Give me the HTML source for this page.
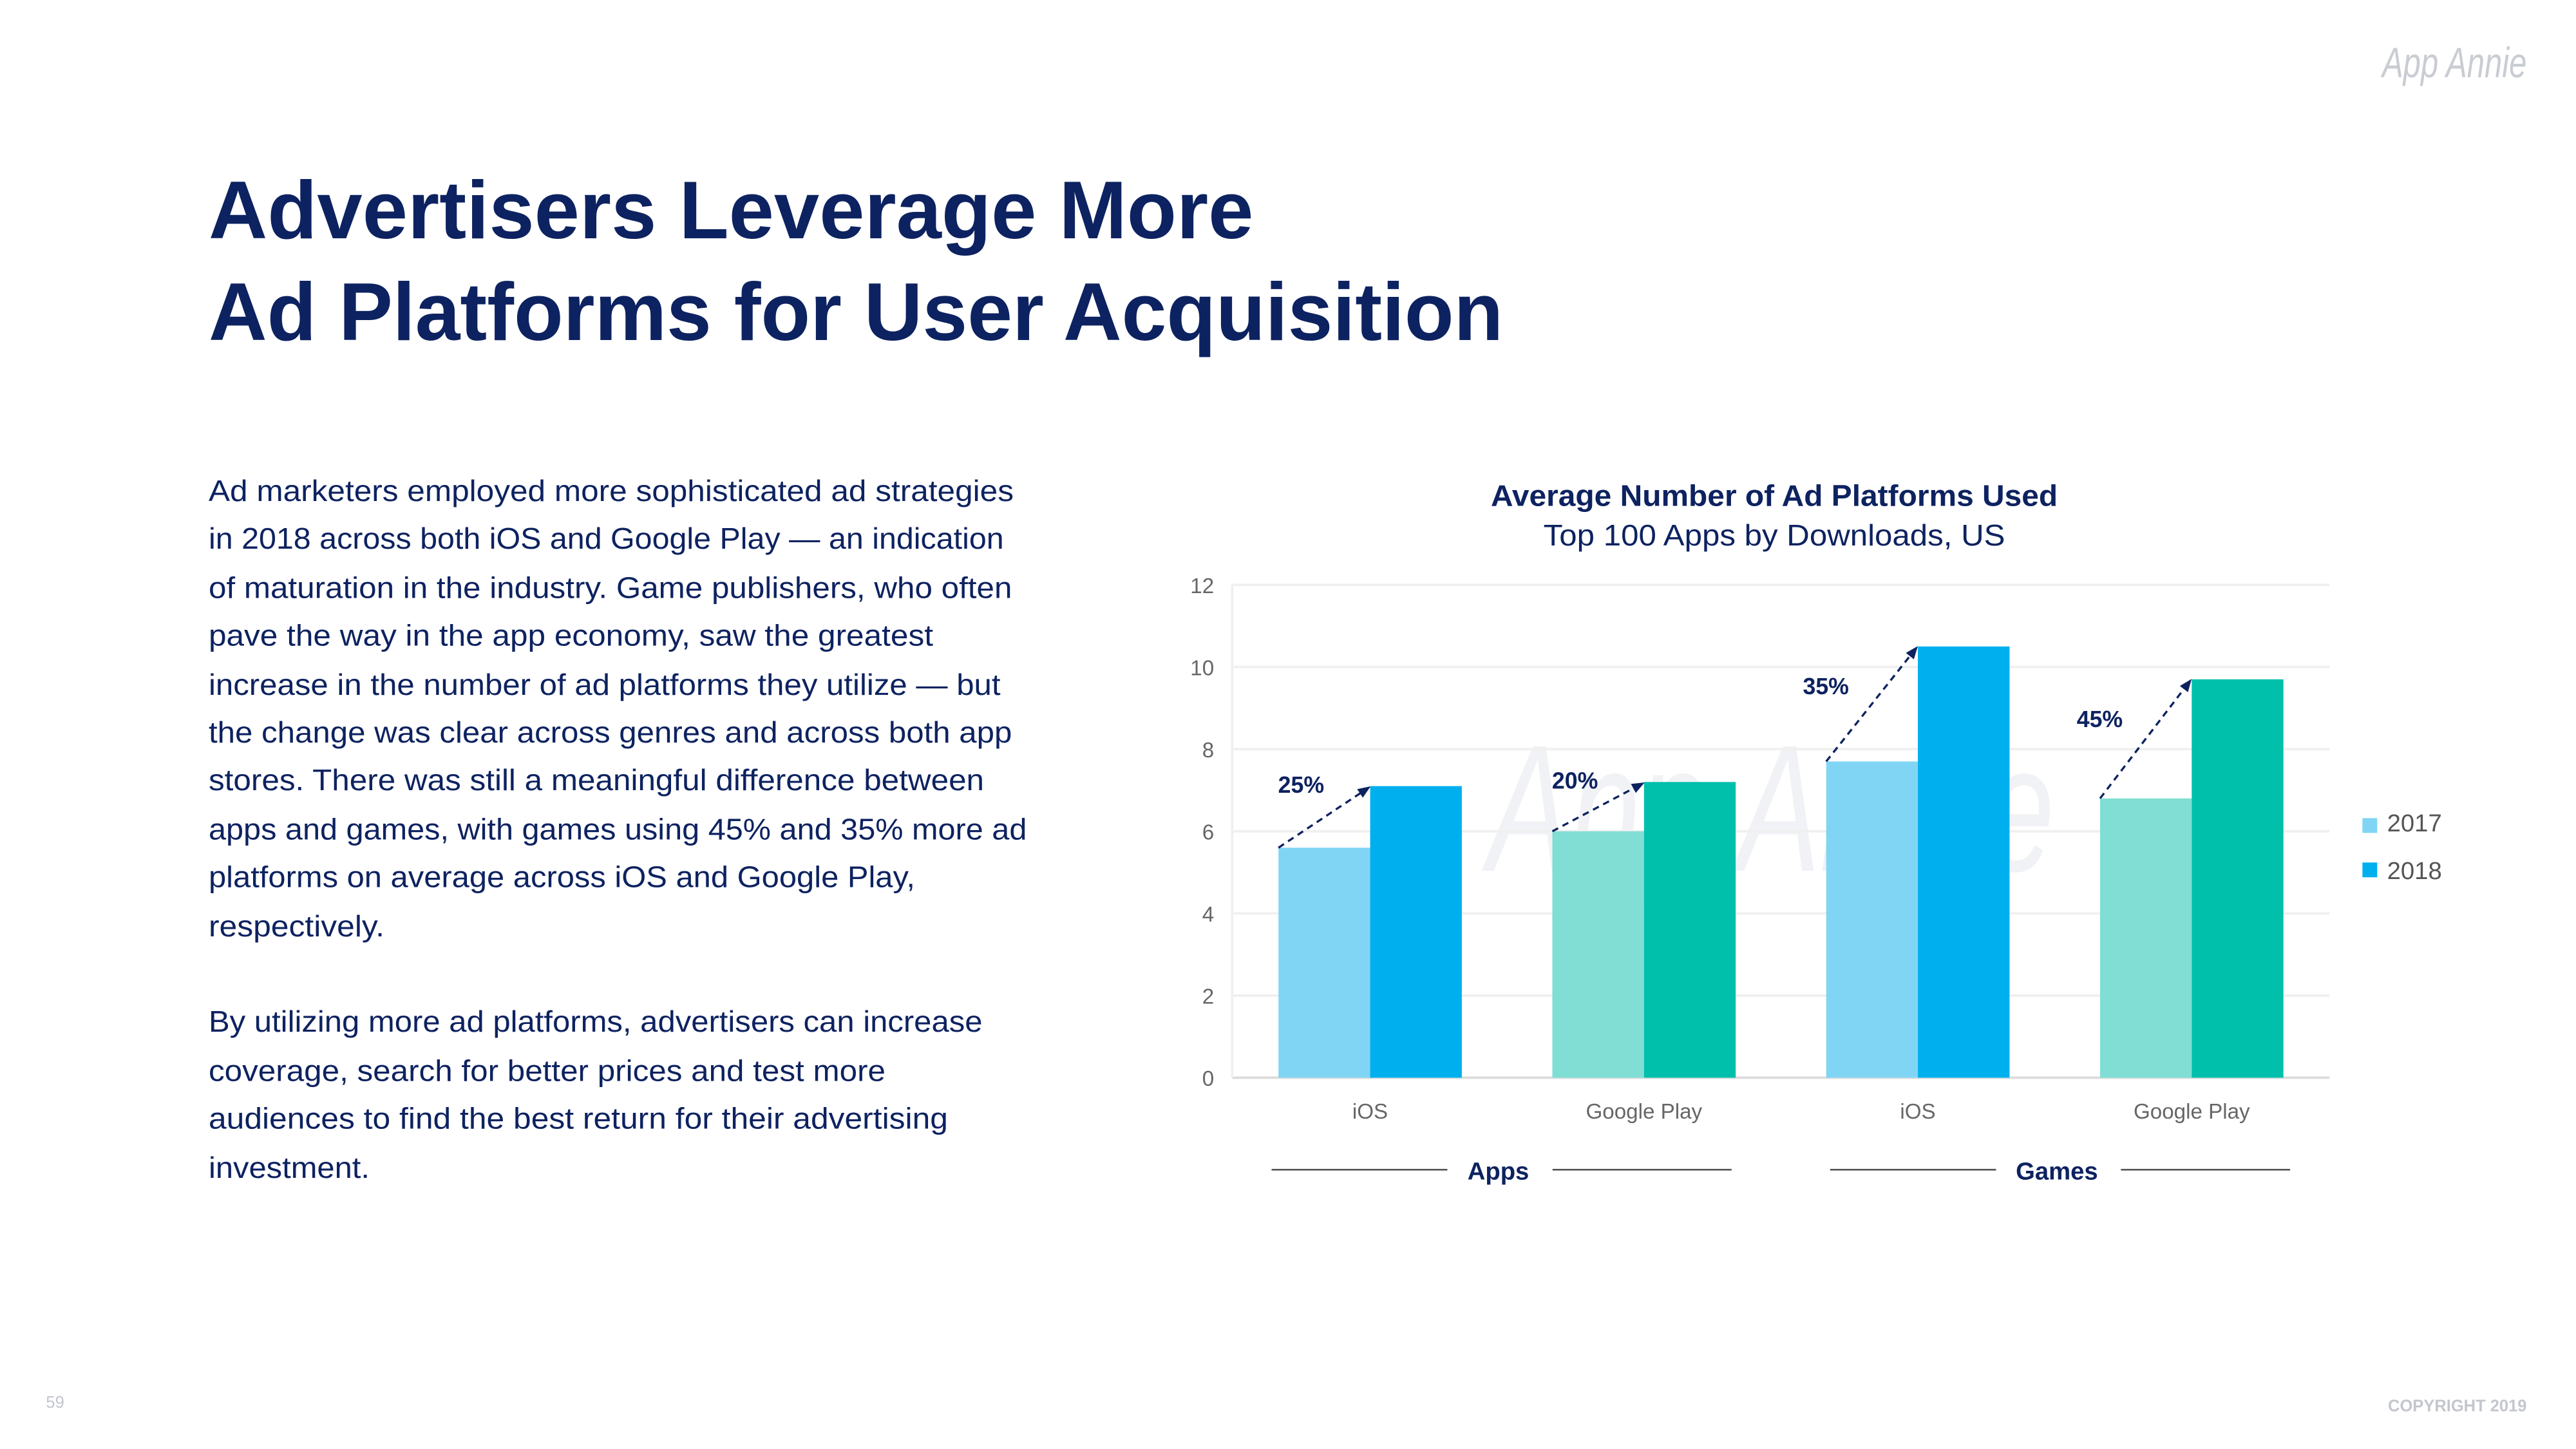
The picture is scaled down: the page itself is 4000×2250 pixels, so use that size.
<!DOCTYPE html>
<html><head><meta charset="utf-8"><style>
html,body{margin:0;padding:0;background:#fff;}
svg{display:block;font-family:"Liberation Sans",sans-serif;}
</style></head><body>
<svg width="4000" height="2250" viewBox="0 0 1568 882" preserveAspectRatio="none">
<rect width="1568" height="882" fill="#fff"/>
<text x="1538" y="47" text-anchor="end" font-size="26" font-style="italic" fill="#c9ccd3" textLength="88" lengthAdjust="spacingAndGlyphs">App Annie</text>
<g fill="#0d2260" font-weight="bold" font-size="50">
<text x="127" y="145" textLength="636" lengthAdjust="spacingAndGlyphs">Advertisers Leverage More</text>
<text x="127" y="207" textLength="788" lengthAdjust="spacingAndGlyphs">Ad Platforms for User Acquisition</text>
</g>
<g fill="#0d2260" font-size="18">
<text x="127" y="305" textLength="490" lengthAdjust="spacingAndGlyphs">Ad marketers employed more sophisticated ad strategies</text>
<text x="127" y="334" textLength="484" lengthAdjust="spacingAndGlyphs">in 2018 across both iOS and Google Play — an indication</text>
<text x="127" y="364" textLength="489" lengthAdjust="spacingAndGlyphs">of maturation in the industry. Game publishers, who often</text>
<text x="127" y="393" textLength="441" lengthAdjust="spacingAndGlyphs">pave the way in the app economy, saw the greatest</text>
<text x="127" y="423" textLength="482" lengthAdjust="spacingAndGlyphs">increase in the number of ad platforms they utilize — but</text>
<text x="127" y="452" textLength="489" lengthAdjust="spacingAndGlyphs">the change was clear across genres and across both app</text>
<text x="127" y="481" textLength="472" lengthAdjust="spacingAndGlyphs">stores. There was still a meaningful difference between</text>
<text x="127" y="511" textLength="498" lengthAdjust="spacingAndGlyphs">apps and games, with games using 45% and 35% more ad</text>
<text x="127" y="540" textLength="430" lengthAdjust="spacingAndGlyphs">platforms on average across iOS and Google Play,</text>
<text x="127" y="570" textLength="107" lengthAdjust="spacingAndGlyphs">respectively.</text>
<text x="127" y="628" textLength="471" lengthAdjust="spacingAndGlyphs">By utilizing more ad platforms, advertisers can increase</text>
<text x="127" y="658" textLength="412" lengthAdjust="spacingAndGlyphs">coverage, search for better prices and test more</text>
<text x="127" y="687" textLength="450" lengthAdjust="spacingAndGlyphs">audiences to find the best return for their advertising</text>
<text x="127" y="717" textLength="98" lengthAdjust="spacingAndGlyphs">investment.</text>
</g>
<text x="1080" y="308" text-anchor="middle" font-size="18" font-weight="bold" fill="#0d2260" textLength="345" lengthAdjust="spacingAndGlyphs">Average Number of Ad Platforms Used</text>
<text x="1080" y="332" text-anchor="middle" font-size="18" fill="#0d2260" textLength="281" lengthAdjust="spacingAndGlyphs">Top 100 Apps by Downloads, US</text>
<text x="1078" y="530" text-anchor="middle" font-size="110" font-style="italic" fill="#eef0f3" textLength="345" lengthAdjust="spacingAndGlyphs" opacity="0.8">App Annie</text>
<g id="chart"></g>
<g>
<rect x="1438" y="498" width="9" height="9" fill="#80d5f5"/>
<text x="1453" y="506" font-size="15" fill="#555">2017</text>
<rect x="1438" y="525" width="9" height="9" fill="#00b0ee"/>
<text x="1453" y="535" font-size="15" fill="#555">2018</text>
</g>
<text x="28" y="857" font-size="10" fill="#c3c6cc">59</text>
<text x="1538" y="859" text-anchor="end" font-size="10" font-weight="bold" fill="#c3c6cc">COPYRIGHT 2019</text>
</svg>
<script>
const categories=["iOS","Google Play","iOS","Google Play"];
const values2017=[5.6,6.0,7.7,6.8];
const values2018=[7.1,7.2,10.5,9.7];
const changeLabels=["25%","20%","35%","45%"];
const yTicks=[0,2,4,6,8,10,12];
const groupLabels=["Apps","Games"];
const lightColors=["#80d5f5","#80ded4","#80d5f5","#80ded4"];
const darkColors=["#00b0ee","#00bfab","#00b0ee","#00bfab"];
const NS="http://www.w3.org/2000/svg";
const g=document.getElementById('chart');
const X0=750,X1=1418,Y0=656,PX=25;
const y=v=>Y0-v*PX;
const xc=i=>834+i*166.7;
const BW=55.8;
function mk(t,a,txt){const e=document.createElementNS(NS,t);for(const k in a)e.setAttribute(k,a[k]);if(txt!=null)e.textContent=txt;g.appendChild(e);return e;}
const defs=mk('defs',{});
defs.innerHTML='<marker id="ah" viewBox="0 0 10 10" refX="8" refY="5" markerWidth="6" markerHeight="6" orient="auto"><path d="M0,1 L10,5 L0,9 z" fill="#0d2260"/></marker>';
yTicks.forEach(t=>{
 const l=mk('line',{x1:X0,x2:X1,y1:y(t),y2:y(t),stroke:t===0?'#dcdcdc':'#f0f0f0','stroke-width':1.5});
 
 
 const tx=mk('text',{x:739,y:y(t)+5,'text-anchor':'end','font-size':13,fill:'#666'},t);
 
 
});
const ax=mk('line',{x1:X0,x2:X0,y1:y(12),y2:Y0,stroke:'#f0f0f0','stroke-width':1.5});


categories.forEach((c,i)=>{
 const b1=mk('rect',{x:xc(i)-BW,y:y(values2017[i]),width:BW,height:values2017[i]*PX,fill:lightColors[i]});
 
 
 const b2=mk('rect',{x:xc(i),y:y(values2018[i]),width:BW,height:values2018[i]*PX,fill:darkColors[i]});
 
 
 const ar=mk('line',{x1:xc(i)-BW,y1:y(values2017[i]),x2:xc(i)-1,y2:y(values2018[i])+1,stroke:'#0d2260','stroke-width':1.3,'stroke-dasharray':'4,3','marker-end':'url(#ah)'});
 
 
 const lx=i>=2?xc(i)-56:xc(i)-42;
 const ly=i>=2?y(values2018[i])+29:y(values2018[i])+4;
 const lb=mk('text',{x:lx,y:ly,'text-anchor':'middle','font-size':14,'font-weight':'bold',fill:'#0d2260'},changeLabels[i]);
 
 
 const xl=mk('text',{x:xc(i),y:681,'text-anchor':'middle','font-size':13,fill:'#666'},c);
 
 
});
groupLabels.forEach((gl,j)=>{
 const cx=912+j*340;
 const t=mk('text',{x:cx,y:718,'text-anchor':'middle','font-size':15,'font-weight':'bold',fill:'#0d2260'},gl);
 
 
 const w=j===0?21:27;
 const l1=mk('line',{x1:cx-138,x2:cx-w-10,y1:712,y2:712,stroke:'#555','stroke-width':1});
 
 
 const l2=mk('line',{x1:cx+w+12,x2:cx+142,y1:712,y2:712,stroke:'#555','stroke-width':1});
 
 
});
</script>
</body></html>
